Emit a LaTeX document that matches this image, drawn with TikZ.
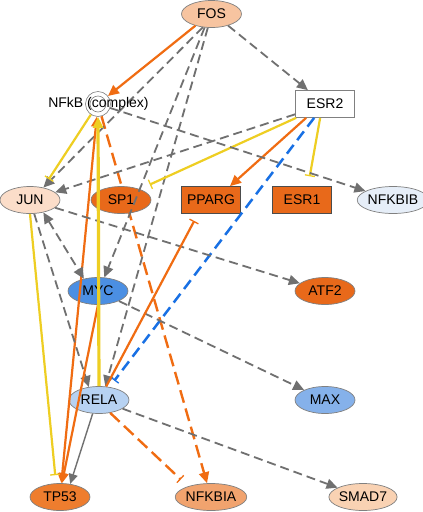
\documentclass[tikz,border=0pt]{standalone}
\usepackage{fontspec}
\setmainfont{Liberation Sans}
\usetikzlibrary{arrows.meta,shapes.geometric,backgrounds}
\definecolor{eg}{RGB}{112,112,112}
\definecolor{eo}{RGB}{240,108,18}
\definecolor{ey}{RGB}{238,206,34}
\definecolor{eb}{RGB}{24,112,228}
\definecolor{nb}{RGB}{128,128,128}
\definecolor{cfos}{RGB}{247,196,160}
\definecolor{cjun}{RGB}{251,221,201}
\definecolor{cdark}{RGB}{232,105,26}
\definecolor{cnfkbib}{RGB}{230,238,248}
\definecolor{cmyc}{RGB}{75,143,227}
\definecolor{crela}{RGB}{183,210,242}
\definecolor{cmax}{RGB}{133,177,234}
\definecolor{ctp}{RGB}{238,125,46}
\definecolor{cnfkbia}{RGB}{241,163,110}
\definecolor{csmad}{RGB}{249,210,179}
\begin{document}
\begin{tikzpicture}[x=1pt,y=-1pt,
  lbl/.style={font=\fontsize{14}{16}\selectfont,text=black},
  gene/.style={lbl,ellipse,draw=nb,line width=0.7pt,minimum width=60pt,minimum height=27pt,inner sep=0pt},
  box/.style={lbl,rectangle,draw=nb,line width=0.7pt,minimum width=59pt,minimum height=27pt,inner sep=0pt},
  gd/.style={draw=eg,line width=1.8pt,dash pattern=on 9pt off 5pt},
  gs/.style={draw=eg,line width=1.4pt},
  os/.style={draw=eo,line width=2.2pt},
  od/.style={draw=eo,line width=2.4pt,dash pattern=on 13pt off 6pt},
  ys/.style={draw=ey,line width=2.2pt},
  yt/.style={draw=ey,line width=3.2pt},
  bd/.style={draw=eb,line width=2.5pt,dash pattern=on 11pt off 6pt},
  ag/.style={-{Triangle[length=11pt,width=10pt]}},
  ag2/.style={{Triangle[length=11pt,width=10pt]}-{Triangle[length=11pt,width=10pt]}},
  inh/.style={-{Bar[width=10pt,line width=1.3pt]}}
]
\useasboundingbox (0,0) rectangle (423,512);

% nodes
\node[gene,fill=cfos] (fos) at (211.5,14) {FOS};
\node[circle,draw=nb,line width=0.6pt,minimum size=25pt,inner sep=0pt,fill=white] (nfkb) at (98,104) {};
\draw[nb,line width=0.6pt] (nfkb.center) circle (8pt);
\node[box,fill=white] (esr2) at (325,104) {ESR2};
\node[gene,fill=cjun] (jun) at (30,200) {JUN};
\node[gene,fill=cdark] (sp1) at (121,200) {SP1};
\node[box,fill=cdark,draw=black!70] (pparg) at (211,200) {PPARG};
\node[box,fill=cdark,draw=black!70] (esr1) at (302,200) {ESR1};
\node[gene,fill=cnfkbib] (nfkbib) at (393,200) {NFKBIB};
\node[gene,fill=cmyc] (myc) at (98,291) {MYC};
\node[gene,fill=cdark] (atf2) at (325,291) {ATF2};
\node[gene,fill=crela] (rela) at (99,400) {RELA};
\node[gene,fill=cmax] (max) at (325,400) {MAX};
\node[gene,fill=ctp] (tp53) at (60,497) {TP53};
\node[gene,fill=cnfkbia] (nfkbia) at (211,497) {NFKBIA};
\node[gene,fill=csmad] (smad7) at (363,497) {SMAD7};

\begin{pgfonlayer}{background}
\fill[white] (0,0) rectangle (423,512);
\draw[od,-{Triangle[length=11pt,width=10pt]}] (nfkb) -- (nfkbia);
\end{pgfonlayer}

% edges from FOS
\draw[gd,ag] (fos.325) -- (esr2);
\draw[gd,ag] (fos.237) -- (jun.43);
\draw[gd,ag] (fos.243) -- (myc.65);
\draw[gd,ag] (fos.255) -- (rela.65);
\draw[os,-{Triangle[length=11pt,width=10pt]}] (fos.216) -- (nfkb);

% edges from ESR2
\draw[gd,ag] (esr2.199) -- (jun.17);
\draw[ys,inh,shorten >=11pt] ([xshift=1pt]esr2.south west) -- (sp1.30);
\draw[os,-{Triangle[length=11pt,width=10pt]}] ([xshift=11pt]esr2.south west) -- ([xshift=19pt]pparg.north);
\draw[bd,-{Bar[width=10pt,line width=1.3pt]},shorten >=8pt] ([xshift=19pt]esr2.south west) -- (rela.51);
\draw[ys,inh,shorten >=10pt] ([xshift=25pt]esr2.south west) -- ([xshift=6pt]esr1.north);

% edges from NFkB
\draw[gd,ag] (nfkb) -- (nfkbib);
\draw[ys,inh,shorten >=10pt] (nfkb.236) -- (jun.43);
\draw[os,{Triangle[length=10pt,width=9pt]}-{Triangle[length=10pt,width=9pt]}] (nfkb) -- (tp53);

% edges from JUN
\draw[gd,ag2] (jun.-43) -- (myc.139);
\draw[gd,ag] (jun.-73) -- (rela.128);
\draw[gd,ag] (jun) -- (atf2);
\draw[ys,inh,shorten >=8pt] (jun.south) -- ([xshift=-4pt]tp53.north);

% edges from MYC
\draw[gd,ag] (myc) -- (max);
\draw[os,-{Triangle[length=10pt,width=9pt]}] (myc.south) -- ([xshift=2pt]tp53.north);

% edges from RELA
\draw[yt,-{Triangle[length=11pt,width=10pt]}] (rela.north) -- (nfkb.south);
\draw[os,inh,shorten >=8pt] (rela.62) -- ([xshift=-13pt]pparg.south);
\draw[gs,-{Triangle[length=10pt,width=9pt]}] (rela.245) -- (tp53.52);
\draw[od,inh,shorten >=10pt] (rela.-49) -- (nfkbia.155);
\draw[gd,ag] (rela) -- (smad7);

% NFkB label on top
\node[lbl] (nfkblabel) at (98.5,104) {NFkB (complex)};
\end{tikzpicture}
\end{document}
